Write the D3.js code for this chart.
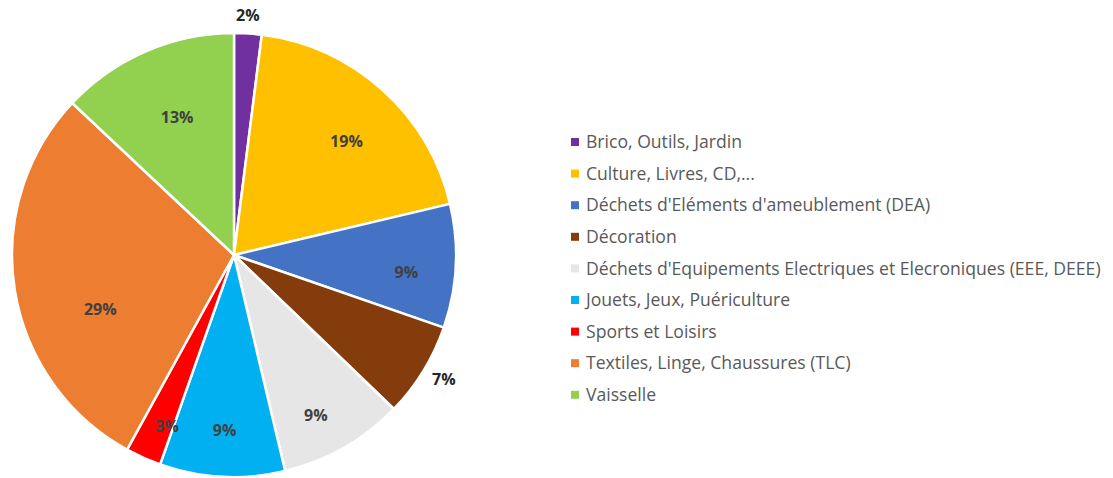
<!DOCTYPE html>
<html><head><meta charset="utf-8">
<script src="https://cdn.jsdelivr.net/npm/d3@7"></script>
<style>body{margin:0;background:#fff}svg{display:block}</style>
</head><body>
<svg id="c" width="1113" height="478"></svg>
<script>
const categories = ["Brico, Outils, Jardin","Culture, Livres, CD,...","Déchets d'Eléments d'ameublement (DEA)","Décoration","Déchets d'Equipements Electriques et Elecroniques (EEE, DEEE)","Jouets, Jeux, Puériculture","Sports et Loisirs","Textiles, Linge, Chaussures (TLC)","Vaisselle"];
const values = [2.0, 19.3, 9.0, 6.9, 9.1, 9.1, 2.6, 29.0, 13.0];
const colors = ["#7030A0","#FFC000","#4472C4","#843C0C","#E7E6E6","#00B0F0","#FF0000","#ED7D31","#92D050"];
// label placement: radius factor and position within the slice's angle span (0..1)
const labelRadius = [1.08, 0.72, 0.78, 1.1, 0.81, 0.79, 0.83, 0.65, 0.67];
const labelAngleFrac = [0.46, 0.54, 0.59, 0.47, 0.58, 0.5, 0.2, 0.375, 0.52];

const svg = d3.select("#c");
const cx = 234, cy = 255, R = 222;
const g = svg.append("g").attr("transform", `translate(${cx},${cy})`);
const pie = d3.pie().sort(null).value(d => d)(values);
const arc = d3.arc().innerRadius(0).outerRadius(R);
g.selectAll("path").data(pie).join("path")
  .attr("d", arc).attr("fill", (d,i) => colors[i])
  .attr("stroke", "#fff").attr("stroke-width", 2.5).attr("stroke-linejoin","round");
const fmt = d3.format(".0%");
const total = d3.sum(values);
g.selectAll("text.lbl").data(pie).join("text").attr("class","lbl")
  .attr("transform", (d,i) => {
    const a = d.startAngle + (d.endAngle - d.startAngle)*labelAngleFrac[i];
    const r = R*labelRadius[i];
    return `translate(${r*Math.sin(a)},${-r*Math.cos(a)})`;
  })
  .attr("text-anchor","middle").attr("dy","0.35em")
  .attr("font-family","'Open Sans', sans-serif").attr("font-weight","bold")
  .attr("font-size", 16)
  .attr("fill", (d,i) => labelRadius[i] > 1 ? "#262626" : "#404040")
  .text(d => fmt(d.value/total));

const leg = svg.append("g").attr("transform","translate(571,142)");
const items = leg.selectAll("g").data(categories).join("g")
  .attr("transform", (d,i) => `translate(0,${i*31.6})`);
items.append("rect").attr("x",0).attr("y",-4).attr("width",8).attr("height",8)
  .attr("fill", (d,i) => colors[i]);
items.append("text").attr("x",15).attr("dy","0.35em")
  .attr("font-family","'Open Sans', sans-serif").attr("font-size",15.5)
  .attr("fill","#595959").text(d => d);
const longest = items.selectAll("text").nodes()[4];
const w = longest.getComputedTextLength();
const scale = 515 / w;
items.selectAll("text").attr("font-size", 15.5*scale);
</script>
</body></html>
